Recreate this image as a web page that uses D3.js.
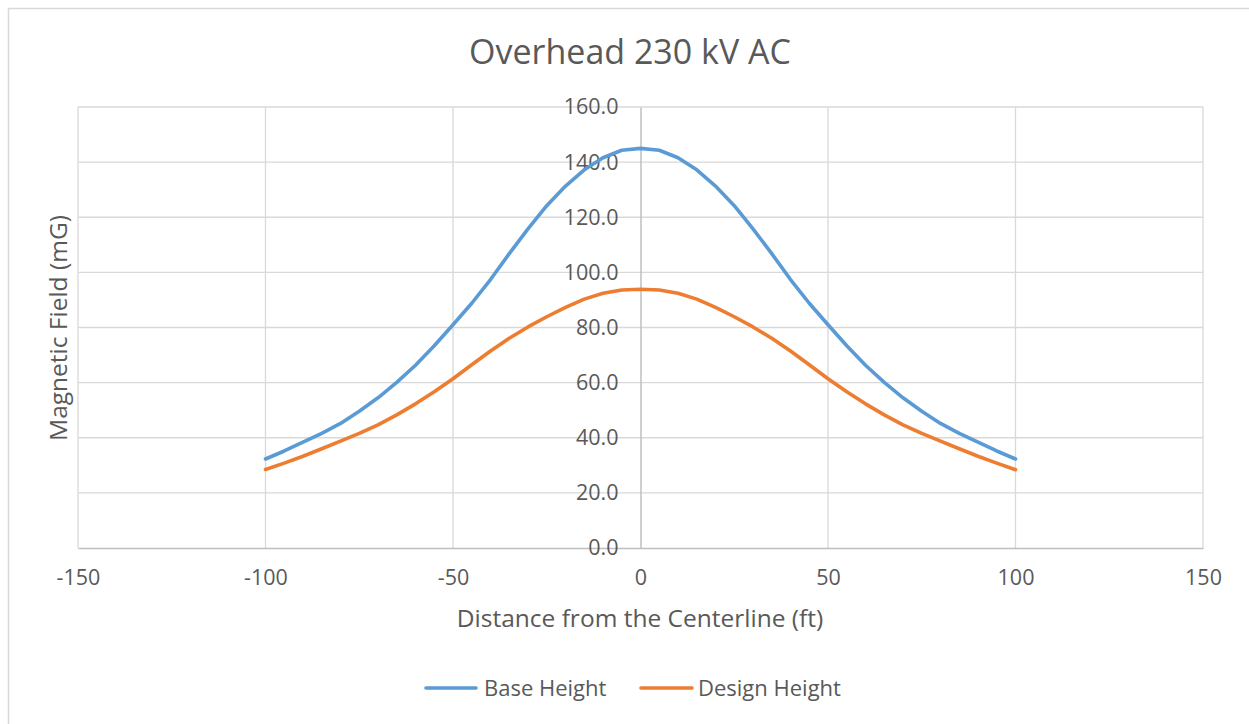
<!DOCTYPE html>
<html>
<head>
<meta charset="utf-8">
<script src="https://cdn.jsdelivr.net/npm/d3@7"></script>
<style>
  html, body { margin: 0; padding: 0; background: #fff; }
  svg { display: block; }
  text { font-family: "Open Sans", "Noto Sans", sans-serif; fill: #595959; }
</style>
</head>
<body>
<svg id="chart" width="1249" height="724"></svg>
<script>
// ---- data ----
const distance = [-100,-95,-90,-85,-80,-75,-70,-65,-60,-55,-50,-45,-40,-35,-30,-25,-20,-15,-10,-5,0,
                  5,10,15,20,25,30,35,40,45,50,55,60,65,70,75,80,85,90,95,100];
const baseHeight = [32.3,35.2,38.4,41.6,45.2,49.6,54.5,60.1,66.3,73.4,81.0,88.8,97.4,106.8,115.8,124.2,131.3,137.2,141.6,144.3,145.0,
                    144.3,141.6,137.2,131.3,124.2,115.8,106.8,97.4,88.8,81.0,73.4,66.3,60.1,54.5,49.6,45.2,41.6,38.4,35.2,32.3];
const designHeight = [28.5,30.8,33.3,36.0,38.8,41.6,44.7,48.3,52.3,56.7,61.4,66.5,71.5,76.1,80.2,83.9,87.3,90.3,92.4,93.6,93.9,
                      93.6,92.4,90.3,87.3,83.9,80.2,76.1,71.5,66.5,61.4,56.7,52.3,48.3,44.7,41.6,38.8,36.0,33.3,30.8,28.4];
const xTicks = [-150,-100,-50,0,50,100,150];
const yTicks = [0,20,40,60,80,100,120,140,160];
const seriesNames = ["Base Height","Design Height"];
const seriesColors = ["#5B9BD5","#ED7D31"];
const titleText = "Overhead 230 kV AC";
const xTitle = "Distance from the Centerline (ft)";
const yTitle = "Magnetic Field (mG)";

// ---- layout ----
const svg = d3.select("#chart");
const plot = {left: 78, right: 1203, top: 107, bottom: 548};

// chart border (top and left visible)
svg.append("rect").attr("x", 8.5).attr("y", 8.5).attr("width", 1260).attr("height", 740)
  .attr("fill", "none").attr("stroke", "#d9d9d9").attr("stroke-width", 1.5);

const x = d3.scaleLinear().domain([-150,150]).range([plot.left, plot.right]);
const y = d3.scaleLinear().domain([0,160]).range([plot.bottom, plot.top]);

// gridlines
const grid = svg.append("g");
grid.selectAll(".hg").data(yTicks.filter(t => t > 0)).enter().append("line")
  .attr("x1", plot.left).attr("x2", plot.right)
  .attr("y1", d => y(d)).attr("y2", d => y(d))
  .attr("stroke", "#d9d9d9").attr("stroke-width", 1.3);
grid.selectAll(".vg").data(xTicks.filter(t => t !== 0)).enter().append("line")
  .attr("x1", d => x(d)).attr("x2", d => x(d))
  .attr("y1", plot.top).attr("y2", plot.bottom)
  .attr("stroke", "#d9d9d9").attr("stroke-width", 1.3);

// x axis (horizontal line at y=0)
const xAxis = d3.axisBottom(x).tickValues(xTicks).tickSize(0).tickPadding(22).tickFormat(d => String(d));
const gx = svg.append("g").attr("transform", `translate(0,${y(0)})`).call(xAxis);
gx.select(".domain").attr("stroke", "#bfbfbf").attr("stroke-width", 1.5);
gx.selectAll("text").style("font-size", "21.5px").attr("fill", "#595959")
  .style("font-family", "'Open Sans', sans-serif");

// y axis at x=0
const yAxis = d3.axisLeft(y).tickValues(yTicks).tickSize(0).tickPadding(22).tickFormat(d3.format(".1f"));
const gy = svg.append("g").attr("transform", `translate(${x(0)},0)`).call(yAxis);
gy.select(".domain").attr("stroke", "#bfbfbf").attr("stroke-width", 1.5);
gy.selectAll("text").style("font-size", "21.5px").attr("fill", "#595959")
  .style("font-family", "'Open Sans', sans-serif");

// series
const allSeries = [baseHeight, designHeight];
const line = d3.line().x((d, i) => x(distance[i])).y(d => y(d));
allSeries.forEach((vals, k) => {
  svg.append("path").datum(vals).attr("d", line)
    .attr("fill", "none").attr("stroke", seriesColors[k]).attr("stroke-width", 3.6)
    .attr("stroke-linejoin", "round").attr("stroke-linecap", "round");
});

// title
svg.append("text").attr("x", 630).attr("y", 64).attr("text-anchor", "middle")
  .style("font-size", "34px").text(titleText);

// axis titles
svg.append("text").attr("x", 640).attr("y", 627).attr("text-anchor", "middle")
  .style("font-size", "24.5px").text(xTitle);
svg.append("text").attr("transform", "translate(67,328) rotate(-90)").attr("text-anchor", "middle")
  .style("font-size", "24.5px").text(yTitle);

// legend
const legend = [{x1: 426, x2: 476, tx: 484}, {x1: 641, x2: 692, tx: 698}];
legend.forEach((l, k) => {
  svg.append("line").attr("x1", l.x1).attr("x2", l.x2).attr("y1", 688).attr("y2", 688)
    .attr("stroke", seriesColors[k]).attr("stroke-width", 3.6).attr("stroke-linecap", "round");
  svg.append("text").attr("x", l.tx).attr("y", 696).style("font-size", "22px").text(seriesNames[k]);
});
</script>
</body>
</html>
